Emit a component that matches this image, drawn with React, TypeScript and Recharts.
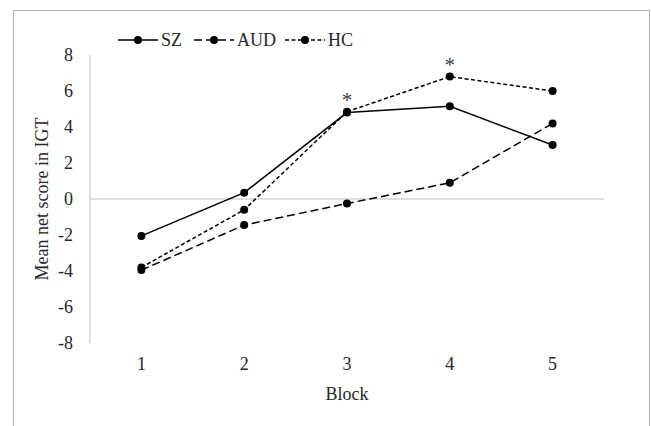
import { LineChart, Line, XAxis, YAxis, ReferenceLine, LabelList } from 'recharts';

const blocks = ['1', '2', '3', '4', '5'];
const szScores = [-2.05, 0.35, 4.8, 5.15, 3.0];
const audScores = [-3.95, -1.45, -0.25, 0.9, 4.2];
const hcScores = [-3.8, -0.6, 4.85, 6.8, 6.0];
// blocks where the group difference was significant (marked on HC)
const significant = [false, false, true, true, false];
const yTicks = [-8, -6, -4, -2, 0, 2, 4, 6, 8];

const series = [
  { key: 'sz', name: 'SZ', values: szScores, dash: undefined as string | undefined },
  { key: 'aud', name: 'AUD', values: audScores, dash: '8 4' },
  { key: 'hc', name: 'HC', values: hcScores, dash: '4 2.5' },
];

const data = blocks.map((b, i) => ({
  block: b,
  sz: szScores[i],
  aud: audScores[i],
  hc: hcScores[i],
}));

const FONT = '"Liberation Serif", "Times New Roman", serif';
const TEXT = '#262626';
const GRID = '#bfbfbf';
const FS = 18;

const Asterisk = (props: any) => {
  const { x, y, index } = props;
  if (!significant[index]) return null;
  return (
    <text x={x} y={y - 5} textAnchor="middle" fontFamily={FONT} fontSize={21} fill="#404040">
      *
    </text>
  );
};

function LegendRow() {
  return (
    <div style={{ position: 'absolute', left: 117, top: 29, display: 'flex', alignItems: 'center', fontFamily: FONT, fontSize: FS, color: TEXT }}>
      {series.map((s, i) => (
        <div key={s.key} style={{ display: 'flex', alignItems: 'center', marginRight: i === 0 ? 11 : 8 }}>
          <svg width={42} height={22}>
            <line x1={1} y1={11} x2={41} y2={11} stroke="#000" strokeWidth={1.5} strokeDasharray={s.dash} />
            <circle cx={21} cy={11} r={4} fill="#000" />
          </svg>
          <span style={{ marginLeft: 2 }}>{s.name}</span>
        </div>
      ))}
    </div>
  );
}

export default function App() {
  return (
    <div style={{ position: 'absolute', left: 0, top: 0, width: 651, height: 426, background: '#fff', overflow: 'hidden' }}>
      <div
        style={{
          position: 'absolute', left: 13, top: 10, width: 637, height: 500, boxSizing: 'border-box',
          borderTop: '1px solid #b3b3b3', borderLeft: '1px solid #b3b3b3', borderRight: '1px solid #b3b3b3',
        }}
      />
      <LineChart
        width={651}
        height={426}
        data={data}
        margin={{ top: 55, right: 47, left: 0, bottom: 23 }}
        style={{ position: 'absolute', left: 0, top: 0 }}
      >
        <XAxis
          dataKey="block"
          scale="band"
          axisLine={false}
          tickLine={false}
          height={60}
          tickMargin={8}
          tick={{ fontSize: FS, fill: TEXT, fontFamily: FONT }}
          label={{ value: 'Block', position: 'insideBottom', offset: 3, fontSize: FS, fill: TEXT, fontFamily: FONT }}
        />
        <YAxis
          type="number"
          domain={[-8, 8]}
          ticks={yTicks}
          interval={0}
          width={90}
          axisLine={{ stroke: GRID }}
          tickLine={false}
          tickMargin={11}
          tick={{ fontSize: FS, fill: TEXT, fontFamily: FONT }}
          label={{
            value: 'Mean net score in IGT', angle: -90, position: 'insideLeft', offset: 42,
            fontSize: FS, fill: TEXT, fontFamily: FONT, style: { textAnchor: 'middle' },
          }}
        />
        <ReferenceLine y={0} stroke={GRID} strokeWidth={1} />
        {series.map((s) => (
          <Line
            key={s.key}
            dataKey={s.key}
            name={s.name}
            type="linear"
            stroke="#000"
            strokeWidth={1.5}
            strokeDasharray={s.dash}
            dot={{ r: 4, fill: '#000', stroke: '#000', strokeWidth: 0 }}
            activeDot={false}
            isAnimationActive={false}
          >
            {s.key === 'hc' && <LabelList dataKey="hc" content={<Asterisk />} />}
          </Line>
        ))}
      </LineChart>
      <LegendRow />
    </div>
  );
}
